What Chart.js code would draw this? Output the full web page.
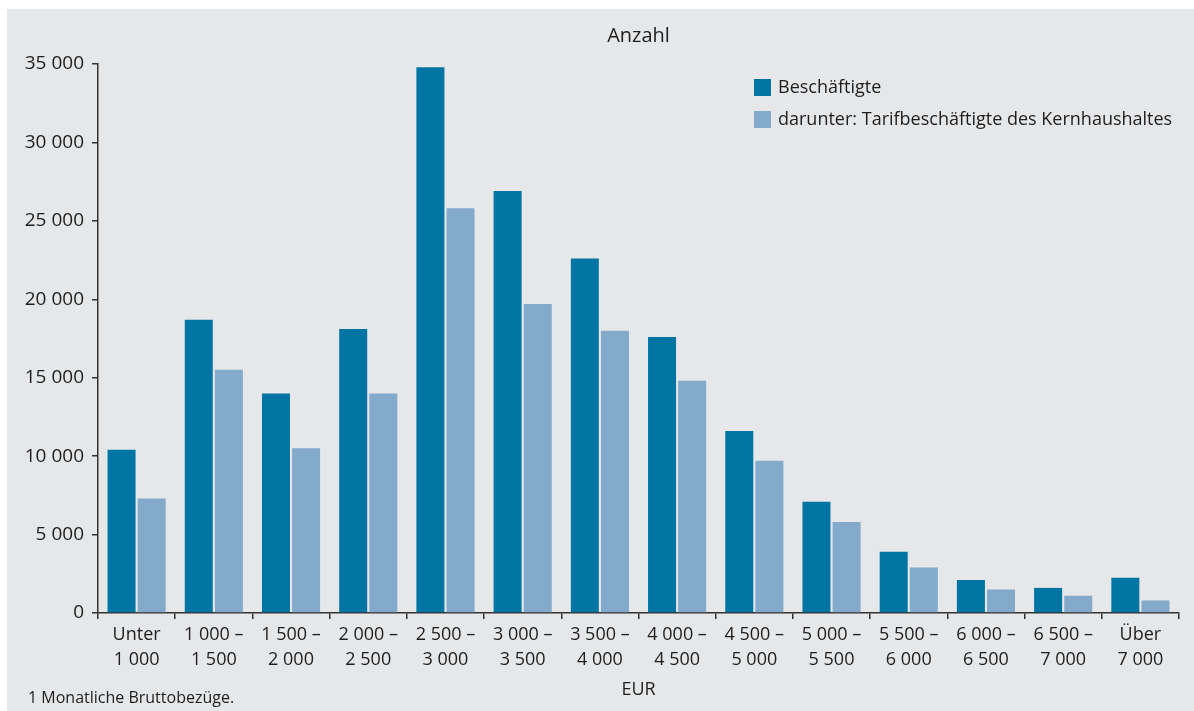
<!DOCTYPE html>
<html lang="de">
<head>
<meta charset="utf-8">
<title>Beschäftigte nach Bruttobezügen</title>
<script src="https://cdn.jsdelivr.net/npm/chart.js@4.4.1/dist/chart.umd.min.js"></script>
<style>
  html, body { margin: 0; padding: 0; background: #ffffff; }
  #panel {
    position: absolute; left: 7px; top: 9px;
    width: 1187px; height: 702px;
    background: #e6e7e9;
    font-family: "Open Sans", "Noto Sans", sans-serif;
  }
  #chart { position: absolute; left: 0; top: 0; }
  #note {
    position: absolute; left: 21px; top: 677px;
    font-size: 16px; color: #1e1e1e;
  }
</style>
</head>
<body>
<div id="panel">
  <canvas id="chart" width="1187" height="702"></canvas>
  <div id="note">1 Monatliche Bruttobezüge.</div>
</div>
<script>
// Kategorien (EUR)
const categories = [
    ['Unter', '1 000'],
    ['1 000 –', '1 500'],
    ['1 500 –', '2 000'],
    ['2 000 –', '2 500'],
    ['2 500 –', '3 000'],
    ['3 000 –', '3 500'],
    ['3 500 –', '4 000'],
    ['4 000 –', '4 500'],
    ['4 500 –', '5 000'],
    ['5 000 –', '5 500'],
    ['5 500 –', '6 000'],
    ['6 000 –', '6 500'],
    ['6 500 –', '7 000'],
    ['Über', '7 000']
];

const beschaeftigte = [10400, 18700, 14000, 18100, 34800, 26900, 22600, 17600, 11600, 7100, 3900, 2100, 1600, 2250];
const tarifbeschaeftigte = [7300, 15500, 10500, 14000, 25800, 19700, 18000, 14800, 9700, 5800, 2900, 1500, 1100, 800];

const yTicks = [0, 5000, 10000, 15000, 20000, 25000, 30000, 35000];

const FONT = '"Open Sans", "Noto Sans", sans-serif';
const TEXT = '#1e1e1e';

function formatNumber(v) {
    return String(v).replace(/\B(?=(\d{3})+(?!\d))/g, ' ');
}

// Titel, Achsentitel und Legende direkt auf das Canvas
const extraText = {
    id: 'extraText',
    afterDraw(chart) {
        const ctx = chart.ctx;
        const area = chart.chartArea;
        ctx.save();
        ctx.fillStyle = TEXT;
        ctx.textAlign = 'center';
        ctx.textBaseline = 'middle';
        ctx.font = '20px ' + FONT;
        ctx.fillText('Anzahl', (area.left + area.right) / 2, 27);
        ctx.font = '18px ' + FONT;
        ctx.fillText('EUR', (area.left + area.right) / 2, 681);

        // Legende
        ctx.textAlign = 'left';
        chart.data.datasets.forEach((ds, i) => {
            const y = 70 + i * 32;
            ctx.fillStyle = ds.backgroundColor;
            ctx.fillRect(747, y, 17, 17);
            ctx.fillStyle = TEXT;
            ctx.fillText(ds.label, 771, y + 9);
        });
        ctx.restore();
    }
};

new Chart(document.getElementById('chart'), {
    type: 'bar',
    data: {
        labels: categories,
        datasets: [
            {
                label: 'Beschäftigte',
                data: beschaeftigte,
                backgroundColor: '#0075a4'
            },
            {
                label: 'darunter: Tarifbeschäftigte des Kernhaushaltes',
                data: tarifbeschaeftigte,
                backgroundColor: '#84aacb'
            }
        ]
    },
    options: {
        responsive: false,
        animation: false,
        layout: { padding: { top: 55, right: 15, left: 0, bottom: 0 } },
        datasets: {
            bar: { categoryPercentage: 0.78, barPercentage: 0.93 }
        },
        plugins: {
            legend: { display: false },
            title: { display: false },
            tooltip: { enabled: false }
        },
        scales: {
            x: {
                afterFit(scale) { scale.height = 98; },
                grid: {
                    offset: true,
                    drawOnChartArea: false,
                    drawTicks: true,
                    tickLength: 6,
                    color: '#333333',
                    lineWidth: 1.5
                },
                border: { display: true, color: '#333333', width: 1.5 },
                ticks: {
                    color: TEXT,
                    font: { family: FONT, size: 18, lineHeight: 1.39 },
                    padding: 3,
                    maxRotation: 0,
                    autoSkip: false
                }
            },
            y: {
                min: 0,
                max: 35000,
                afterFit(scale) { scale.width = 91; },
                afterBuildTicks(scale) {
                    scale.ticks = yTicks.map(v => ({ value: v }));
                },
                grid: {
                    drawOnChartArea: false,
                    drawTicks: true,
                    tickLength: 6,
                    color: '#333333',
                    lineWidth: 1.5
                },
                border: { display: true, color: '#333333', width: 1.5 },
                ticks: {
                    color: TEXT,
                    font: { family: FONT, size: 19 },
                    padding: 8,
                    callback: v => formatNumber(v)
                }
            }
        }
    },
    plugins: [extraText]
});
</script>
</body>
</html>
